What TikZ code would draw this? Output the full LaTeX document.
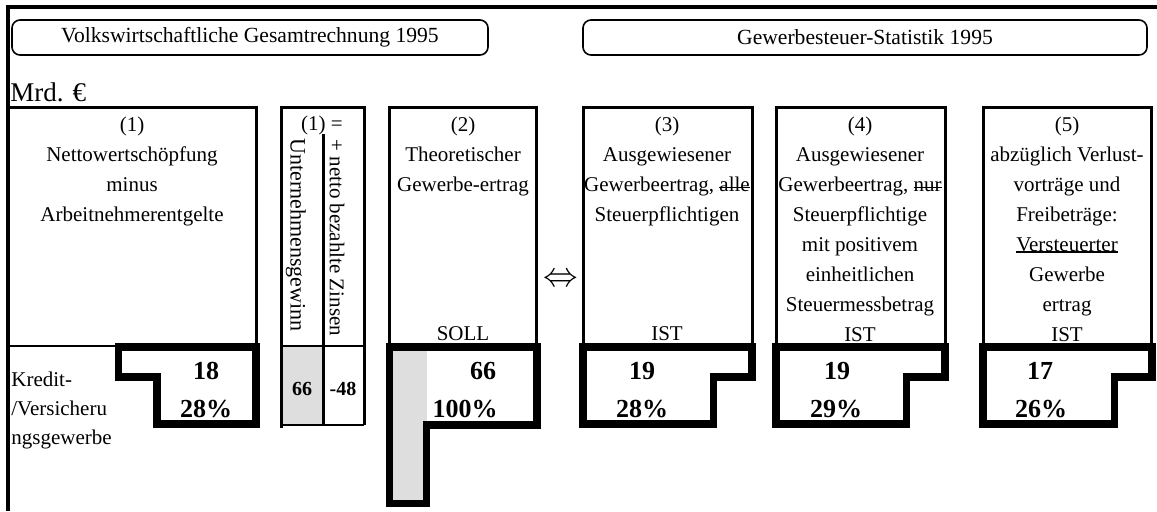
\documentclass[tikz,border=0pt]{standalone}
\usepackage{fontspec}
\setmainfont{Liberation Serif}
\usetikzlibrary{positioning}
\newsavebox{\linbox}
\newcommand{\durch}[1]{\sbox{\linbox}{#1}\rlap{\rule[0.2em]{\wd\linbox}{0.06em}}\usebox{\linbox}}
\newcommand{\unter}[1]{\sbox{\linbox}{#1}\rlap{\rule[-0.03em]{\wd\linbox}{0.07em}}\usebox{\linbox}}

\begin{document}
\begin{tikzpicture}[
          x=0.5pt, y=-0.5pt,
          font=\fontsize{10.5}{15}\selectfont,
          rahmen/.style={line width=2pt},
          kopf/.style={draw, line width=0.8pt, rounded corners=4pt, minimum height=17.5pt, inner sep=0pt,
                       font=\fontsize{10.8}{13}\selectfont},
          feld/.style={line width=1.5pt},
          duenn/.style={line width=1.2pt},
          wert/.style={line width=3.6pt, line join=miter},
          txt/.style={align=center, inner sep=0pt, anchor=north},
          zahl/.style={font=\fontsize{13}{15}\selectfont\bfseries, inner sep=0pt},
          klein/.style={font=\fontsize{10}{12}\selectfont\bfseries, inner sep=0pt},
          grau/.style={fill=black!13}
        ]
        \useasboundingbox (0,0) rectangle (1157,511);
        \draw[rahmen] (8,511) -- (8,7) -- (1157,7);
        \node[kopf, minimum width=238pt] (vgr) at (250,37.5) {Volkswirtschaftliche Gesamtrechnung 1995};
        \node[kopf, minimum width=282pt] (gst) at (865,37.5) {Gewerbesteuer-Statistik 1995};
        \node[anchor=base west, inner sep=0pt, font=\fontsize{13.5}{15}\selectfont] (mrd) at (10,101) {Mrd. €};

        \fill[grau] (281,346) rectangle (323,425);
        \draw[feld] (8,107) -- (256,107) -- (256,346);
        \draw[feld] (281,428) |- (364,107) -- (364,425);
        \draw[feld] (323,134) -- (323,425);
        \draw[duenn] (281,346) -- (364,346);
        \draw[duenn] (281,425) -- (364,425);
        \draw[feld] (389,346) |- (536,107) -- (536,346);
        \draw[feld] (583,346) |- (752,107) -- (752,346);
        \draw[feld] (776,346) |- (945,107) -- (945,346);
        \draw[feld] (983,346) |- (1151,107) -- (1151,346);
        \draw[duenn] (8,346) -- (118,346);

        \node[txt] (t1) at (132,117) {(1)\\Nettowertschöpfung\\minus\\Arbeitnehmerentgelte};
        \node[inner sep=0pt] (t1b) at (322,125) {(1) =};
        \node[inner sep=0pt, rotate=-90, anchor=west, font=\fontsize{11}{13}\selectfont] (gewinn) at (296,138) {Unternehmensgewinn};
        \node[inner sep=0pt, rotate=-90, anchor=west] (zinsen) at (337,139) {+ netto bezahlte Zinsen};
        \node[txt] (t2) at (463,117) {(2)\\Theoretischer\\Gewerbe-ertrag};
        \node[inner sep=0pt, anchor=base] (soll) at (463,340) {SOLL};
        \node[inner sep=0pt, font=\fontsize{18}{18}\selectfont] (pfeil) at (561,280) {$\Leftrightarrow$};
        \node[txt] (t3) at (667,117) {(3)\\Ausgewiesener\\Gewerbeertrag, \durch{alle}\\Steuerpflichtigen};
        \node[inner sep=0pt, anchor=base] (ist3) at (667,340) {IST};
        \node[txt] (t4) at (860,117) {(4)\\Ausgewiesener\\Gewerbeertrag, \durch{nur}\\Steuerpflichtige\\mit positivem\\einheitlichen\\Steuermessbetrag\\IST};
        \node[txt] (t5) at (1067,117) {(5)\\abzüglich Verlust-\\vorträge und\\Freibeträge:\\\unter{Versteuerter}\\Gewerbe\\ertrag\\IST};

        \fill[grau] (389.5,347) rectangle (426.5,503.5);
        \draw[wert] (118.5,347) -- (256,347) -- (256,424) -- (157,424) -- (157,377) -- (118.5,377) -- cycle;
        \draw[wert] (389.5,347) -- (537,347) -- (537,425) -- (426.5,425) -- (426.5,503.5) -- (389.5,503.5) -- cycle;
        \draw[wert] (583,347) -- (752,347) -- (752,377) -- (713.5,377) -- (713.5,424) -- (583,424) -- cycle;
        \draw[wert] (776,347) -- (945,347) -- (945,377) -- (906.5,377) -- (906.5,424) -- (776,424) -- cycle;
        \draw[wert] (983,347) -- (1152,347) -- (1152,377) -- (1114.5,377) -- (1114.5,424) -- (983,424) -- cycle;

        \node[align=left, anchor=north west, inner sep=0pt, font=\fontsize{10.5}{14.5}\selectfont] (kredit) at (11,372) {Kredit-\\/Versicheru\\ngsgewerbe};
        \node[zahl] (w1) at (206,371) {18};
        \node[zahl] (p1) at (206,409) {28\%};
        \node[klein] (w1a) at (302,389) {66};
        \node[klein] (w1b) at (343,389) {-48};
        \node[zahl] (w2) at (483,371) {66};
        \node[zahl] (p2) at (465,409) {100\%};
        \node[zahl] (w3) at (642,371) {19};
        \node[zahl] (p3) at (642,409) {28\%};
        \node[zahl] (w4) at (837,371) {19};
        \node[zahl] (p4) at (836,409) {29\%};
        \node[zahl] (w5) at (1040,371) {17};
        \node[zahl] (p5) at (1041,409) {26\%};
      \end{tikzpicture}
\end{document}
